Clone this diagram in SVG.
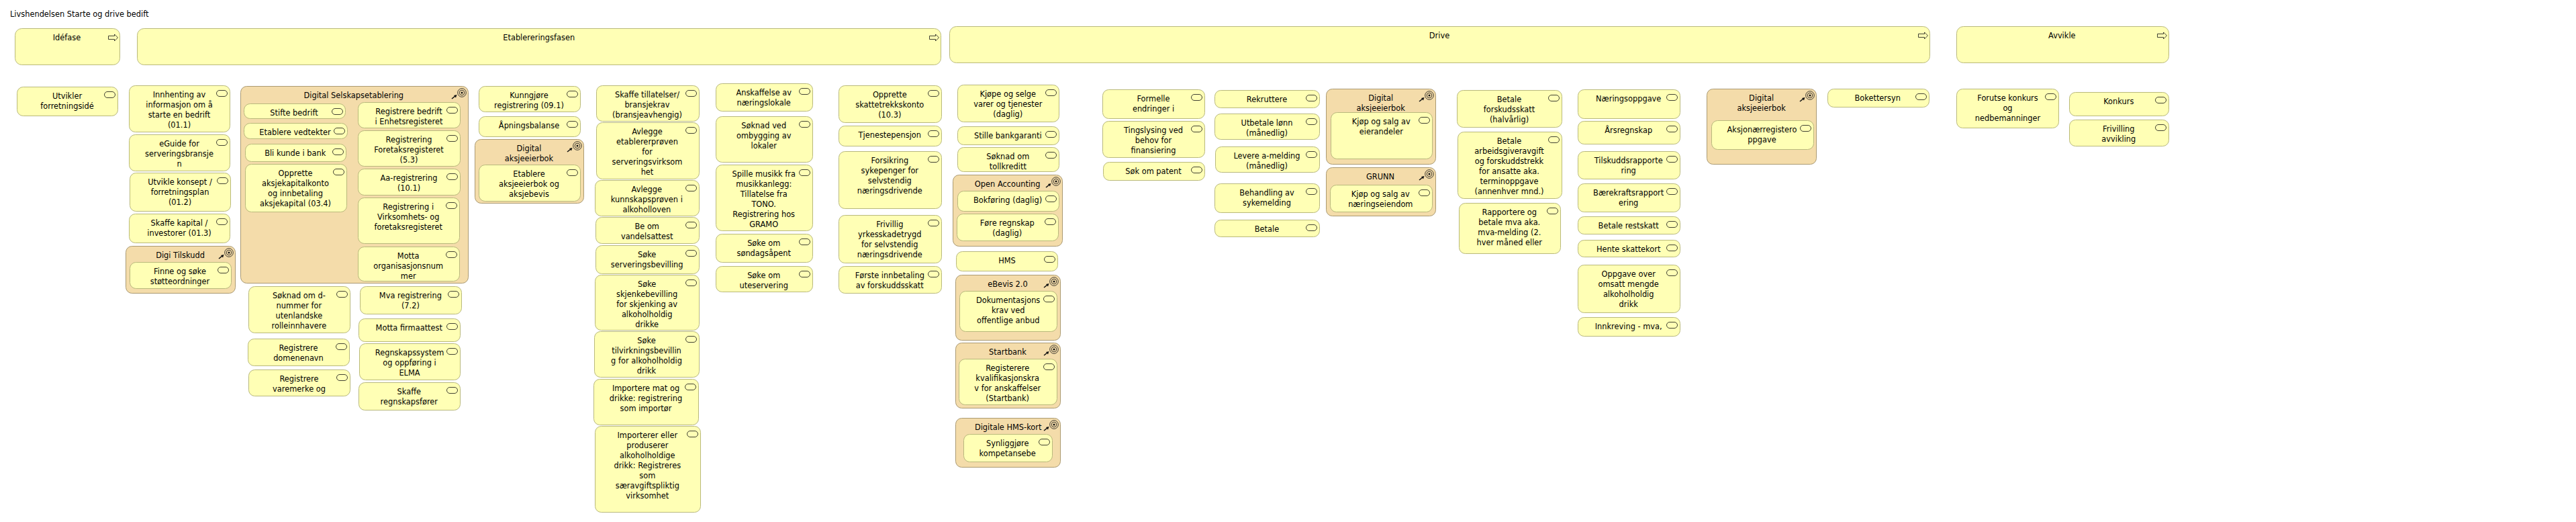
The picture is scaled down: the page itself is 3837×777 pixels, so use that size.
<svg xmlns="http://www.w3.org/2000/svg" width="3837" height="777" viewBox="0 0 3837 777">
<style>
text{font-family:"DejaVu Sans","Liberation Sans",sans-serif;font-size:11.4px;fill:#000;text-anchor:middle}
.title{text-anchor:start}
.n{fill:#ffffb5;stroke:#b9b97c;stroke-width:1}
.g{fill:#f4dcaa;stroke:#ab9a72;stroke-width:1}
.i{fill:none;stroke:#111;stroke-width:.8}
</style>
<defs>
<rect id="p" class="i" x="0" y="0" width="16" height="9" rx="4.5"/>
<polygon id="a" class="i" points="0.5,3 9.5,3 9.5,0.5 14.5,5.5 9.5,10.5 9.5,8 0.5,8"/>
<g id="t">
<circle class="i" r="6.3"/><circle class="i" r="3.8"/><circle r="1.5" fill="#111"/>
<path d="M-15,9 L-10,5" stroke="#111" stroke-width="1.6" fill="none"/><polygon points="-7.5,3 -9,7.5 -12,4" fill="#111"/>
</g>
</defs>
<rect width="3837" height="777" fill="#fff"/>
<text class="title" x="15" y="24.5">Livshendelsen Starte og drive bedift</text>
<g id="connectors"/>

<g id="idefase"><rect class="n" x="22.5" y="42.5" width="156" height="54" rx="10"/><use href="#a" x="161" y="50.5"/><text x="99.5" y="59.7">Idéfase</text></g>
<g id="etablering"><rect class="n" x="204.5" y="42.5" width="1197" height="54" rx="10"/><use href="#a" x="1384" y="50.5"/><text x="802.7" y="59.7">Etablereringsfasen</text></g>
<g id="drive"><rect class="n" x="1414.5" y="39.5" width="1460" height="54" rx="10"/><use href="#a" x="2857" y="47.5"/><text x="2144" y="56.7">Drive</text></g>
<g id="avvikle"><rect class="n" x="2914.5" y="39.5" width="316" height="54" rx="10"/><use href="#a" x="3213" y="47.5"/><text x="3071.3" y="56.7">Avvikle</text></g>

<g id="n01"><rect class="n" x="25.5" y="129.5" width="150" height="43" rx="9"/><use href="#p" x="155.5" y="136.5"/><text y="146.7"><tspan x="100">Utvikler</tspan><tspan x="100" dy="15">forretningsidé</tspan></text></g>
<g id="n02"><rect class="n" x="192.5" y="127.5" width="150" height="69" rx="9"/><use href="#p" x="322.5" y="134.5"/><text y="144.7"><tspan x="267">Innhenting av</tspan><tspan x="267" dy="15">informasjon om å</tspan><tspan x="267" dy="15">starte en bedrift</tspan><tspan x="267" dy="15">(01.1)</tspan></text></g>
<g id="n03"><rect class="n" x="192.5" y="200.5" width="150" height="54" rx="9"/><use href="#p" x="322.5" y="207.5"/><text y="217.7"><tspan x="267">eGuide for</tspan><tspan x="267" dy="15">serveringsbransje</tspan><tspan x="267" dy="15">n</tspan></text></g>
<g id="n04"><rect class="n" x="193.5" y="257.5" width="150" height="57" rx="9"/><use href="#p" x="323.5" y="264.5"/><text y="274.7"><tspan x="268">Utvikle konsept /</tspan><tspan x="268" dy="15">forretningsplan</tspan><tspan x="268" dy="15">(01.2)</tspan></text></g>
<g id="n05"><rect class="n" x="192.5" y="318.5" width="150" height="43" rx="9"/><use href="#p" x="322.5" y="325.5"/><text y="335.7"><tspan x="267">Skaffe kapital /</tspan><tspan x="267" dy="15">investorer (01.3)</tspan></text></g>
<g id="digi-tilskudd"><rect class="g" x="187.5" y="366.5" width="163" height="70" rx="9"/><use href="#t" x="341" y="376"/><text x="268.5" y="383.7">Digi Tilskudd</text>
<g id="n06"><rect class="n" x="193.5" y="390.5" width="151" height="39" rx="9"/><use href="#p" x="324.5" y="397.5"/><text y="407.7"><tspan x="268">Finne og søke</tspan><tspan x="268" dy="15">støtteordninger</tspan></text></g></g>

<g id="digital-selskap"><rect class="g" x="358.5" y="128.5" width="339" height="293" rx="9"/><use href="#t" x="688" y="138"/><text x="526.8" y="145.7">Digital Selskapsetablering</text>
<g id="n07"><rect class="n" x="363.5" y="154.5" width="151" height="22" rx="9"/><use href="#p" x="494.5" y="161.5"/><text x="438" y="171.7">Stifte bedrift</text></g>
<g id="n08"><rect class="n" x="363.5" y="183.5" width="154" height="23" rx="9"/><use href="#p" x="497.5" y="190.5"/><text x="439.5" y="200.7">Etablere vedtekter</text></g>
<g id="n09"><rect class="n" x="365.5" y="214.5" width="150" height="26" rx="9"/><use href="#p" x="495.5" y="221.5"/><text x="439.7" y="231.7">Bli kunde i bank</text></g>
<g id="n10"><rect class="n" x="365.5" y="244.5" width="151" height="71" rx="9"/><use href="#p" x="496.5" y="251.5"/><text y="261.7"><tspan x="440">Opprette</tspan><tspan x="440" dy="15">aksjekapitalkonto</tspan><tspan x="440" dy="15">og innbetaling</tspan><tspan x="440" dy="15">aksjekapital (03.4)</tspan></text></g>
<g id="n11"><rect class="n" x="533.5" y="152.5" width="152" height="38" rx="9"/><use href="#p" x="665.5" y="159.5"/><text y="169.7"><tspan x="609">Registrere bedrift</tspan><tspan x="609" dy="15">i Enhetsregisteret</tspan></text></g>
<g id="n12"><rect class="n" x="533.5" y="194.5" width="152" height="53" rx="9"/><use href="#p" x="665.5" y="201.5"/><text y="211.7"><tspan x="609">Registrering</tspan><tspan x="609" dy="15">Foretaksregisteret</tspan><tspan x="609" dy="15">(5.3)</tspan></text></g>
<g id="n13"><rect class="n" x="533.5" y="251.5" width="152" height="39" rx="9"/><use href="#p" x="665.5" y="258.5"/><text y="268.7"><tspan x="609">Aa-registrering</tspan><tspan x="609" dy="15">(10.1)</tspan></text></g>
<g id="n14"><rect class="n" x="533.5" y="294.5" width="151" height="68" rx="9"/><use href="#p" x="664.5" y="301.5"/><text y="311.7"><tspan x="608.2">Registrering i</tspan><tspan x="608.2" dy="15">Virksomhets- og</tspan><tspan x="608.2" dy="15">foretaksregisteret</tspan></text></g>
<g id="n15"><rect class="n" x="533.5" y="367.5" width="151" height="51" rx="9"/><use href="#p" x="664.5" y="374.5"/><text y="384.7"><tspan x="608.2">Motta</tspan><tspan x="608.2" dy="15">organisasjonsnum</tspan><tspan x="608.2" dy="15">mer</tspan></text></g>
</g>

<g id="n16"><rect class="n" x="370.5" y="426.5" width="151" height="69" rx="9"/><use href="#p" x="501.5" y="433.5"/><text y="443.7"><tspan x="445.4">Søknad om d-</tspan><tspan x="445.4" dy="15">nummer for</tspan><tspan x="445.4" dy="15">utenlandske</tspan><tspan x="445.4" dy="15">rolleinnhavere</tspan></text></g>
<g id="n17"><rect class="n" x="369.5" y="504.5" width="151" height="40" rx="9"/><use href="#p" x="500.5" y="511.5"/><text y="521.7"><tspan x="444.5">Registrere</tspan><tspan x="444.5" dy="15">domenenavn</tspan></text></g>
<g id="n18"><rect class="n" x="370.5" y="550.5" width="151" height="39" rx="9"/><use href="#p" x="501.5" y="557.5"/><text y="567.7"><tspan x="445.5">Registrere</tspan><tspan x="445.5" dy="15">varemerke og</tspan></text></g>
<g id="n19"><rect class="n" x="536.5" y="426.5" width="151" height="41" rx="9"/><use href="#p" x="667.5" y="433.5"/><text y="443.7"><tspan x="611.4">Mva registrering</tspan><tspan x="611.4" dy="15">(7.2)</tspan></text></g>
<g id="n20"><rect class="n" x="534.5" y="474.5" width="151" height="34" rx="9"/><use href="#p" x="665.5" y="481.5"/><text x="609.3" y="491.7">Motta firmaattest</text></g>
<g id="n21"><rect class="n" x="535.5" y="511.5" width="150" height="54" rx="9"/><use href="#p" x="665.5" y="518.5"/><text y="528.7"><tspan x="610">Regnskapssystem</tspan><tspan x="610" dy="15">og oppføring i</tspan><tspan x="610" dy="15">ELMA</tspan></text></g>
<g id="n22"><rect class="n" x="534.5" y="569.5" width="151" height="41" rx="9"/><use href="#p" x="665.5" y="576.5"/><text y="586.7"><tspan x="609.3">Skaffe</tspan><tspan x="609.3" dy="15">regnskapsfører</tspan></text></g>

<g id="n23"><rect class="n" x="713.5" y="128.5" width="151" height="38" rx="9"/><use href="#p" x="844.5" y="135.5"/><text y="145.7"><tspan x="788">Kunngjøre</tspan><tspan x="788" dy="15">registrering (09.1)</tspan></text></g>
<g id="n24"><rect class="n" x="713.5" y="173.5" width="151" height="30" rx="9"/><use href="#p" x="844.5" y="180.5"/><text x="788" y="190.7">Åpningsbalanse</text></g>
<g id="digital-aksjeeierbok-1"><rect class="g" x="707.5" y="207.5" width="162" height="95" rx="9"/><use href="#t" x="860" y="217"/><text y="224.7"><tspan x="788">Digital</tspan><tspan x="788" dy="15">aksjeeierbok</tspan></text>
<g id="n25"><rect class="n" x="713.5" y="245.5" width="151" height="54" rx="9"/><use href="#p" x="844.5" y="252.5"/><text y="262.7"><tspan x="788">Etablere</tspan><tspan x="788" dy="15">aksjeeierbok og</tspan><tspan x="788" dy="15">aksjebevis</tspan></text></g></g>

<g id="n26"><rect class="n" x="888.5" y="127.5" width="153" height="53" rx="9"/><use href="#p" x="1021.5" y="134.5"/><text y="144.7"><tspan x="964">Skaffe tillatelser/</tspan><tspan x="964" dy="15">bransjekrav</tspan><tspan x="964" dy="15">(bransjeavhengig)</tspan></text></g>
<g id="n27"><rect class="n" x="888.5" y="182.5" width="153" height="84" rx="9"/><use href="#p" x="1021.5" y="189.5"/><text y="199.7"><tspan x="964">Avlegge</tspan><tspan x="964" dy="15">etablererprøven</tspan><tspan x="964" dy="15">for</tspan><tspan x="964" dy="15">serveringsvirksom</tspan><tspan x="964" dy="15">het</tspan></text></g>
<g id="n28"><rect class="n" x="886.5" y="268.5" width="155" height="53" rx="9"/><use href="#p" x="1021.5" y="275.5"/><text y="285.7"><tspan x="963.3">Avlegge</tspan><tspan x="963.3" dy="15">kunnskapsprøven i</tspan><tspan x="963.3" dy="15">alkoholloven</tspan></text></g>
<g id="n29"><rect class="n" x="887.5" y="323.5" width="154" height="39" rx="9"/><use href="#p" x="1021.5" y="330.5"/><text y="340.7"><tspan x="963.7">Be om</tspan><tspan x="963.7" dy="15">vandelsattest</tspan></text></g>
<g id="n30"><rect class="n" x="887.5" y="365.5" width="154" height="42" rx="9"/><use href="#p" x="1021.5" y="372.5"/><text y="382.7"><tspan x="963.7">Søke</tspan><tspan x="963.7" dy="15">serveringsbevilling</tspan></text></g>
<g id="n31"><rect class="n" x="886.5" y="409.5" width="155" height="82" rx="9"/><use href="#p" x="1021.5" y="416.5"/><text y="426.7"><tspan x="963.7">Søke</tspan><tspan x="963.7" dy="15">skjenkebevilling</tspan><tspan x="963.7" dy="15">for skjenking av</tspan><tspan x="963.7" dy="15">alkoholholdig</tspan><tspan x="963.7" dy="15">drikke</tspan></text></g>
<g id="n32"><rect class="n" x="885.5" y="493.5" width="156" height="68" rx="9"/><use href="#p" x="1021.5" y="500.5"/><text y="510.7"><tspan x="963">Søke</tspan><tspan x="963" dy="15">tilvirkningsbevillin</tspan><tspan x="963" dy="15">g for alkoholholdig</tspan><tspan x="963" dy="15">drikk</tspan></text></g>
<g id="n33"><rect class="n" x="884.5" y="564.5" width="156" height="68" rx="9"/><use href="#p" x="1020.5" y="571.5"/><text y="581.7"><tspan x="962">Importere mat og</tspan><tspan x="962" dy="15">drikke: registrering</tspan><tspan x="962" dy="15">som importør</tspan></text></g>
<g id="n34"><rect class="n" x="886.5" y="634.5" width="157" height="128" rx="9"/><use href="#p" x="1023.5" y="641.5"/><text y="651.7"><tspan x="964.3">Importerer eller</tspan><tspan x="964.3" dy="15">produserer</tspan><tspan x="964.3" dy="15">alkoholholdige</tspan><tspan x="964.3" dy="15">drikk: Registreres</tspan><tspan x="964.3" dy="15">som</tspan><tspan x="964.3" dy="15">særavgiftspliktig</tspan><tspan x="964.3" dy="15">virksomhet</tspan></text></g>

<g id="n35"><rect class="n" x="1066.5" y="124.5" width="144" height="41" rx="9"/><use href="#p" x="1190.5" y="131.5"/><text y="141.7"><tspan x="1137.7">Anskaffelse av</tspan><tspan x="1137.7" dy="15">næringslokale</tspan></text></g>
<g id="n36"><rect class="n" x="1066.5" y="173.5" width="144" height="68" rx="9"/><use href="#p" x="1190.5" y="180.5"/><text y="190.7"><tspan x="1137.7">Søknad ved</tspan><tspan x="1137.7" dy="15">ombygging av</tspan><tspan x="1137.7" dy="15">lokaler</tspan></text></g>
<g id="n37"><rect class="n" x="1066.5" y="245.5" width="144" height="98" rx="9"/><use href="#p" x="1190.5" y="252.5"/><text y="262.7"><tspan x="1137.7">Spille musikk fra</tspan><tspan x="1137.7" dy="15">musikkanlegg:</tspan><tspan x="1137.7" dy="15">Tillatelse fra</tspan><tspan x="1137.7" dy="15">TONO.</tspan><tspan x="1137.7" dy="15">Registrering hos</tspan><tspan x="1137.7" dy="15">GRAMO</tspan></text></g>
<g id="n38"><rect class="n" x="1066.5" y="348.5" width="144" height="42" rx="9"/><use href="#p" x="1190.5" y="355.5"/><text y="365.7"><tspan x="1137.7">Søke om</tspan><tspan x="1137.7" dy="15">søndagsåpent</tspan></text></g>
<g id="n39"><rect class="n" x="1066.5" y="396.5" width="144" height="38" rx="9"/><use href="#p" x="1190.5" y="403.5"/><text y="413.7"><tspan x="1137.7">Søke om</tspan><tspan x="1137.7" dy="15">uteservering</tspan></text></g>

<g id="n40"><rect class="n" x="1249.5" y="127.5" width="153" height="55" rx="9"/><use href="#p" x="1382.5" y="134.5"/><text y="144.7"><tspan x="1325.3">Opprette</tspan><tspan x="1325.3" dy="15">skattetrekkskonto</tspan><tspan x="1325.3" dy="15">(10.3)</tspan></text></g>
<g id="n41"><rect class="n" x="1249.5" y="187.5" width="153" height="30" rx="9"/><use href="#p" x="1382.5" y="194.5"/><text x="1325.3" y="204.7">Tjenestepensjon</text></g>
<g id="n42"><rect class="n" x="1249.5" y="225.5" width="153" height="85" rx="9"/><use href="#p" x="1382.5" y="232.5"/><text y="242.7"><tspan x="1325.3">Forsikring</tspan><tspan x="1325.3" dy="15">sykepenger for</tspan><tspan x="1325.3" dy="15">selvstendig</tspan><tspan x="1325.3" dy="15">næringsdrivende</tspan></text></g>
<g id="n43"><rect class="n" x="1249.5" y="320.5" width="153" height="71" rx="9"/><use href="#p" x="1382.5" y="327.5"/><text y="337.7"><tspan x="1325.3">Frivillig</tspan><tspan x="1325.3" dy="15">yrkesskadetrygd</tspan><tspan x="1325.3" dy="15">for selvstendig</tspan><tspan x="1325.3" dy="15">næringsdrivende</tspan></text></g>
<g id="n44"><rect class="n" x="1249.5" y="396.5" width="153" height="40" rx="9"/><use href="#p" x="1382.5" y="403.5"/><text y="413.7"><tspan x="1325.3">Første innbetaling</tspan><tspan x="1325.3" dy="15">av forskuddsskatt</tspan></text></g>

<g id="n45"><rect class="n" x="1426.5" y="126.5" width="151" height="55" rx="9"/><use href="#p" x="1557.5" y="133.5"/><text y="143.7"><tspan x="1501.3">Kjøpe og selge</tspan><tspan x="1501.3" dy="15">varer og tjenester</tspan><tspan x="1501.3" dy="15">(daglig)</tspan></text></g>
<g id="n46"><rect class="n" x="1426.5" y="188.5" width="151" height="27" rx="9"/><use href="#p" x="1557.5" y="195.5"/><text x="1501.3" y="205.7">Stille bankgaranti</text></g>
<g id="n47"><rect class="n" x="1426.5" y="219.5" width="151" height="36" rx="9"/><use href="#p" x="1557.5" y="226.5"/><text y="236.7"><tspan x="1501.3">Søknad om</tspan><tspan x="1501.3" dy="15">tollkreditt</tspan></text></g>
<g id="open-accounting"><rect class="g" x="1419.5" y="260.5" width="163" height="106" rx="9"/><use href="#t" x="1573" y="270"/><text x="1500.7" y="277.7">Open Accounting</text>
<g id="n48"><rect class="n" x="1426.5" y="284.5" width="151" height="30" rx="9"/><use href="#p" x="1557.5" y="291.5"/><text x="1501" y="301.7">Bokføring (daglig)</text></g>
<g id="n49"><rect class="n" x="1425.5" y="318.5" width="151" height="40" rx="9"/><use href="#p" x="1556.5" y="325.5"/><text y="335.7"><tspan x="1500.3">Føre regnskap</tspan><tspan x="1500.3" dy="15">(daglig)</tspan></text></g></g>
<g id="n50"><rect class="n" x="1424.5" y="374.5" width="151" height="29" rx="9"/><use href="#p" x="1555.5" y="381.5"/><text x="1500" y="391.7">HMS</text></g>
<g id="ebevis"><rect class="g" x="1423.5" y="409.5" width="156" height="97" rx="9"/><use href="#t" x="1570" y="419"/><text x="1501" y="426.7">eBevis 2.0</text>
<g id="n51"><rect class="n" x="1429.5" y="433.5" width="145" height="60" rx="9"/><use href="#p" x="1554.5" y="440.5"/><text y="450.7"><tspan x="1501.7">Dokumentasjons</tspan><tspan x="1501.7" dy="15">krav ved</tspan><tspan x="1501.7" dy="15">offentlige anbud</tspan></text></g></g>
<g id="startbank"><rect class="g" x="1423.5" y="510.5" width="156" height="97" rx="9"/><use href="#t" x="1570" y="520"/><text x="1501" y="527.7">Startbank</text>
<g id="n52"><rect class="n" x="1428.5" y="534.5" width="146" height="68" rx="9"/><use href="#p" x="1554.5" y="541.5"/><text y="551.7"><tspan x="1500.7">Registerere</tspan><tspan x="1500.7" dy="15">kvalifikasjonskra</tspan><tspan x="1500.7" dy="15">v for anskaffelser</tspan><tspan x="1500.7" dy="15">(Startbank)</tspan></text></g></g>
<g id="digitale-hms"><rect class="g" x="1423.5" y="622.5" width="156" height="73" rx="9"/><use href="#t" x="1570" y="632"/><text x="1501.7" y="639.7">Digitale HMS-kort</text>
<g id="n53"><rect class="n" x="1435.5" y="646.5" width="132" height="41" rx="9"/><use href="#p" x="1547.5" y="653.5"/><text y="663.7"><tspan x="1500.7">Synliggjøre</tspan><tspan x="1500.7" dy="15">kompetansebe</tspan></text></g></g>

<g id="n54"><rect class="n" x="1642.5" y="133.5" width="152" height="43" rx="9"/><use href="#p" x="1774.5" y="140.5"/><text y="150.7"><tspan x="1718">Formelle</tspan><tspan x="1718" dy="15">endringer i</tspan></text></g>
<g id="n55"><rect class="n" x="1642.5" y="180.5" width="152" height="54" rx="9"/><use href="#p" x="1774.5" y="187.5"/><text y="197.7"><tspan x="1718">Tingslysing ved</tspan><tspan x="1718" dy="15">behov for</tspan><tspan x="1718" dy="15">finansiering</tspan></text></g>
<g id="n56"><rect class="n" x="1643.5" y="241.5" width="151" height="27" rx="9"/><use href="#p" x="1774.5" y="248.5"/><text x="1718" y="258.7">Søk om patent</text></g>

<g id="n57"><rect class="n" x="1809.5" y="134.5" width="156" height="26" rx="9"/><use href="#p" x="1945.5" y="141.5"/><text x="1887" y="151.7">Rekruttere</text></g>
<g id="n58"><rect class="n" x="1809.5" y="169.5" width="156" height="38" rx="9"/><use href="#p" x="1945.5" y="176.5"/><text y="186.7"><tspan x="1887">Utbetale lønn</tspan><tspan x="1887" dy="15">(månedlig)</tspan></text></g>
<g id="n59"><rect class="n" x="1810.5" y="218.5" width="155" height="38" rx="9"/><use href="#p" x="1945.5" y="225.5"/><text y="235.7"><tspan x="1887">Levere a-melding</tspan><tspan x="1887" dy="15">(månedlig)</tspan></text></g>
<g id="n60"><rect class="n" x="1809.5" y="273.5" width="156" height="43" rx="9"/><use href="#p" x="1945.5" y="280.5"/><text y="290.7"><tspan x="1887">Behandling av</tspan><tspan x="1887" dy="15">sykemelding</tspan></text></g>
<g id="n61"><rect class="n" x="1809.5" y="327.5" width="156" height="25" rx="9"/><use href="#p" x="1945.5" y="334.5"/><text x="1887" y="344.7">Betale</text></g>

<g id="digital-aksjeeierbok-2"><rect class="g" x="1975.5" y="132.5" width="163" height="112" rx="9"/><use href="#t" x="2129" y="142"/><text y="149.7"><tspan x="2056.7">Digital</tspan><tspan x="2056.7" dy="15">aksjeeierbok</tspan></text>
<g id="n62"><rect class="n" x="1982.5" y="167.5" width="151" height="69" rx="9"/><use href="#p" x="2113.5" y="174.5"/><text y="184.7"><tspan x="2057.3">Kjøp og salg av</tspan><tspan x="2057.3" dy="15">eierandeler</tspan></text></g></g>
<g id="grunn"><rect class="g" x="1975.5" y="249.5" width="163" height="72" rx="9"/><use href="#t" x="2129" y="259"/><text x="2056" y="266.7">GRUNN</text>
<g id="n63"><rect class="n" x="1981.5" y="275.5" width="152" height="40" rx="9"/><use href="#p" x="2113.5" y="282.5"/><text y="292.7"><tspan x="2056.3">Kjøp og salg av</tspan><tspan x="2056.3" dy="15">næringseiendom</tspan></text></g></g>

<g id="n64"><rect class="n" x="2170.5" y="134.5" width="156" height="55" rx="9"/><use href="#p" x="2306.5" y="141.5"/><text y="151.7"><tspan x="2248">Betale</tspan><tspan x="2248" dy="15">forskudsskatt</tspan><tspan x="2248" dy="15">(halvårlig)</tspan></text></g>
<g id="n65"><rect class="n" x="2171.5" y="196.5" width="155" height="99" rx="9"/><use href="#p" x="2306.5" y="203.5"/><text y="213.7"><tspan x="2248">Betale</tspan><tspan x="2248" dy="15">arbeidsgiveravgift</tspan><tspan x="2248" dy="15">og forskuddstrekk</tspan><tspan x="2248" dy="15">for ansatte aka.</tspan><tspan x="2248" dy="15">terminoppgave</tspan><tspan x="2248" dy="15">(annenhver mnd.)</tspan></text></g>
<g id="n66"><rect class="n" x="2173.5" y="302.5" width="151" height="75" rx="9"/><use href="#p" x="2304.5" y="309.5"/><text y="319.7"><tspan x="2248.3">Rapportere og</tspan><tspan x="2248.3" dy="15">betale mva aka.</tspan><tspan x="2248.3" dy="15">mva-melding (2.</tspan><tspan x="2248.3" dy="15">hver måned eller</tspan></text></g>

<g id="n67"><rect class="n" x="2350.5" y="133.5" width="152" height="43" rx="9"/><use href="#p" x="2482.5" y="140.5"/><text x="2425.7" y="150.7">Næringsoppgave</text></g>
<g id="n68"><rect class="n" x="2350.5" y="180.5" width="152" height="34" rx="9"/><use href="#p" x="2482.5" y="187.5"/><text x="2425.7" y="197.7">Årsregnskap</text></g>
<g id="n69"><rect class="n" x="2350.5" y="225.5" width="152" height="41" rx="9"/><use href="#p" x="2482.5" y="232.5"/><text y="242.7"><tspan x="2425.7">Tilskuddsrapporte</tspan><tspan x="2425.7" dy="15">ring</tspan></text></g>
<g id="n70"><rect class="n" x="2350.5" y="273.5" width="152" height="42" rx="9"/><use href="#p" x="2482.5" y="280.5"/><text y="290.7"><tspan x="2425.7">Bærekraftsrapport</tspan><tspan x="2425.7" dy="15">ering</tspan></text></g>
<g id="n71"><rect class="n" x="2350.5" y="322.5" width="152" height="26" rx="9"/><use href="#p" x="2482.5" y="329.5"/><text x="2425.7" y="339.7">Betale restskatt</text></g>
<g id="n72"><rect class="n" x="2350.5" y="357.5" width="152" height="25" rx="9"/><use href="#p" x="2482.5" y="364.5"/><text x="2425.7" y="374.7">Hente skattekort</text></g>
<g id="n73"><rect class="n" x="2350.5" y="394.5" width="152" height="71" rx="9"/><use href="#p" x="2482.5" y="401.5"/><text y="411.7"><tspan x="2425.7">Oppgave over</tspan><tspan x="2425.7" dy="15">omsatt mengde</tspan><tspan x="2425.7" dy="15">alkoholholdig</tspan><tspan x="2425.7" dy="15">drikk</tspan></text></g>
<g id="n74"><rect class="n" x="2350.5" y="472.5" width="152" height="28" rx="9"/><use href="#p" x="2482.5" y="479.5"/><text x="2425.7" y="489.7">Innkreving - mva,</text></g>

<g id="digital-aksjeeierbok-3"><rect class="g" x="2542.5" y="132.5" width="163" height="112" rx="9"/><use href="#t" x="2696" y="142"/><text y="149.7"><tspan x="2623.6">Digital</tspan><tspan x="2623.6" dy="15">aksjeeierbok</tspan></text>
<g id="n75"><rect class="n" x="2549.5" y="179.5" width="152" height="43" rx="9"/><use href="#p" x="2681.5" y="186.5"/><text y="196.7"><tspan x="2624.5">Aksjonærregistero</tspan><tspan x="2624.5" dy="15">ppgave</tspan></text></g></g>
<g id="n76"><rect class="n" x="2722.5" y="132.5" width="151" height="27" rx="9"/><use href="#p" x="2853.5" y="139.5"/><text x="2796.7" y="149.7">Bokettersyn</text></g>

<g id="n77"><rect class="n" x="2914.5" y="132.5" width="152" height="58" rx="9"/><use href="#p" x="3046.5" y="139.5"/><text y="149.7"><tspan x="2990.5">Forutse konkurs</tspan><tspan x="2990.5" dy="15">og</tspan><tspan x="2990.5" dy="15">nedbemanninger</tspan></text></g>
<g id="n78"><rect class="n" x="3082.5" y="137.5" width="148" height="35" rx="9"/><use href="#p" x="3210.5" y="144.5"/><text x="3155.8" y="154.7">Konkurs</text></g>
<g id="n79"><rect class="n" x="3082.5" y="178.5" width="148" height="39" rx="9"/><use href="#p" x="3210.5" y="185.5"/><text y="195.7"><tspan x="3155.8">Frivilling</tspan><tspan x="3155.8" dy="15">avvikling</tspan></text></g>
</svg>
